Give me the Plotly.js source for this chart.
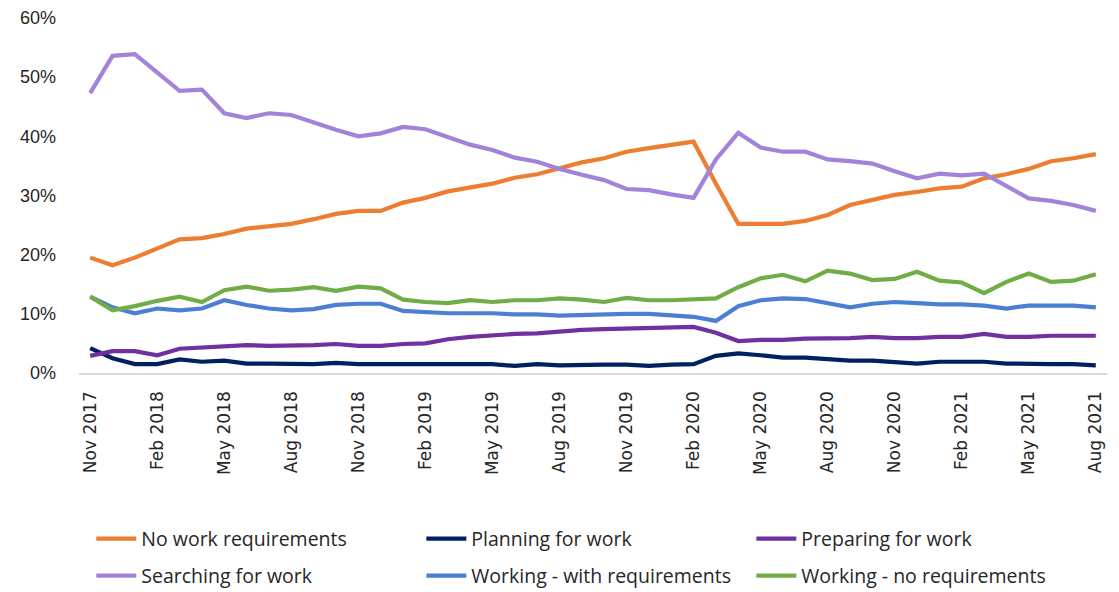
<!DOCTYPE html>
<html>
<head>
<meta charset="utf-8">
<script src="https://cdn.plot.ly/plotly-3.0.1.min.js"></script>
<style>html,body{margin:0;padding:0;background:#fff;}#chart{width:1119px;height:592px;}</style>
</head>
<body>
<div id="chart"></div>
<script>
const months = ["Nov 2017","Dec 2017","Jan 2018","Feb 2018","Mar 2018","Apr 2018","May 2018","Jun 2018","Jul 2018","Aug 2018","Sep 2018","Oct 2018",
"Nov 2018","Dec 2018","Jan 2019","Feb 2019","Mar 2019","Apr 2019","May 2019","Jun 2019","Jul 2019","Aug 2019","Sep 2019","Oct 2019",
"Nov 2019","Dec 2019","Jan 2020","Feb 2020","Mar 2020","Apr 2020","May 2020","Jun 2020","Jul 2020","Aug 2020","Sep 2020","Oct 2020",
"Nov 2020","Dec 2020","Jan 2021","Feb 2021","Mar 2021","Apr 2021","May 2021","Jun 2021","Jul 2021","Aug 2021"];
const tickLabels = ["Nov 2017","Feb 2018","May 2018","Aug 2018","Nov 2018","Feb 2019","May 2019","Aug 2019","Nov 2019","Feb 2020","May 2020","Aug 2020","Nov 2020","Feb 2021","May 2021","Aug 2021"];
const yTickVals = [0,10,20,30,40,50,60];
const yTickText = ["0%","10%","20%","30%","40%","50%","60%"];

const noWorkReq = [19.5,18.2,19.5,21.1,22.6,22.8,23.5,24.4,24.8,25.2,26.0,26.9,27.4,27.4,28.8,29.6,30.7,31.3,32.0,33.0,33.6,34.6,35.6,36.3,37.4,38.0,38.5,39.1,32.0,25.2,25.2,25.2,25.7,26.7,28.4,29.3,30.1,30.6,31.2,31.5,32.9,33.6,34.5,35.8,36.3,37.0];
const planning = [4.2,2.5,1.5,1.5,2.3,1.9,2.1,1.6,1.6,1.5,1.5,1.7,1.5,1.5,1.5,1.5,1.5,1.5,1.5,1.2,1.5,1.3,1.4,1.4,1.4,1.2,1.4,1.5,2.9,3.3,3.0,2.6,2.6,2.3,2.1,2.1,1.8,1.6,1.9,1.9,1.9,1.6,1.5,1.5,1.5,1.3];
const preparing = [2.9,3.7,3.7,3.0,4.1,4.3,4.4,4.7,4.6,4.6,4.7,4.9,4.6,4.6,4.9,5.0,5.7,6.1,6.4,6.6,6.7,7.0,7.3,7.4,7.5,7.6,7.8,7.8,6.8,5.4,5.6,5.6,5.8,5.8,5.9,6.1,5.9,5.9,6.1,6.1,6.6,6.1,6.1,6.3,6.3,6.3];
const searching = [47.3,53.6,53.9,50.8,47.7,47.9,43.9,43.1,43.9,43.6,42.3,41.1,40.0,40.5,41.6,41.2,39.9,38.6,37.7,36.4,35.7,34.5,33.5,32.6,31.1,30.9,30.2,29.6,36.1,40.6,38.1,37.4,37.4,36.1,35.8,35.4,34.1,32.9,33.7,33.4,33.7,31.6,29.5,29.1,28.4,27.4];
const workingWithReq = [12.9,11.1,10.1,10.9,10.6,10.9,12.3,11.5,10.9,10.6,10.8,11.5,11.7,11.7,10.5,10.3,10.1,10.1,10.1,9.9,9.9,9.7,9.8,10.0,10.0,10.0,9.7,9.5,8.8,11.3,12.3,12.6,12.5,11.8,11.1,11.7,12.0,11.8,11.6,11.6,11.4,10.9,11.4,11.4,11.4,11.1];
const workingNoReq = [12.9,10.6,11.3,12.2,12.9,12.0,14.0,14.6,13.9,14.1,14.5,13.9,14.6,14.3,12.4,12.0,11.8,12.3,12.0,12.3,12.3,12.6,12.4,12.0,12.7,12.3,12.3,12.5,12.6,14.5,16.0,16.6,15.5,17.3,16.8,15.7,15.9,17.1,15.6,15.3,13.5,15.4,16.8,15.4,15.6,16.7];

const seriesNames = ["No work requirements","Planning for work","Preparing for work","Searching for work","Working - with requirements","Working - no requirements"];
const seriesData = [noWorkReq, planning, preparing, searching, workingWithReq, workingNoReq];
const colors = ["#ED7D31","#002060","#7030A0","#A383DA","#4A7FD4","#70AD47"];
const legendIds = ["legend","legend","legend","legend2","legend2","legend2"];

const traces = seriesNames.map((n,i)=>({
  type:'scatter', mode:'lines', name:n, x:months, y:seriesData[i],
  line:{color:colors[i], width:4.2, shape:'linear'},
  legend:legendIds[i], hoverinfo:'skip'
}));

const legendFont = {family:'"Open Sans",sans-serif', size:19.5, color:'#262626'};
const legendBase = {orientation:'h', x:0.012, xanchor:'left', yanchor:'middle',
    entrywidth:275, entrywidthmode:'pixels', itemwidth:40, font:legendFont, bgcolor:'rgba(0,0,0,0)', borderwidth:0};
const layout = {
  width:1119, height:592,
  margin:{l:79, r:12, t:18, b:219, autoexpand:false},
  paper_bgcolor:'#ffffff', plot_bgcolor:'#ffffff',
  showlegend:true,
  xaxis:{
    type:'category', categoryorder:'array', categoryarray:months, automargin:false,
    range:[-0.5, 45.5], tickvals:tickLabels, ticktext:tickLabels,
    tickangle:-90, showgrid:false, zeroline:false,
    showline:true, linecolor:'#d9d9d9', linewidth:1.5, ticks:'',
    ticklabelstandoff:10,
    tickfont:{family:'"DejaVu Sans",sans-serif', size:17, color:'#262626'}
  },
  yaxis:{
    range:[0,60], tickmode:'array', tickvals:yTickVals, ticktext:yTickText, automargin:false,
    showgrid:false, zeroline:false, showline:false, ticks:'',
    ticklabelstandoff:22,
    tickfont:{family:'"Liberation Sans","Open Sans",sans-serif', size:18, color:'#262626'}
  },
  legend:Object.assign({}, legendBase, {y:(373-539)/355}),
  legend2:Object.assign({}, legendBase, {y:(373-576)/355})
};
Plotly.newPlot('chart', traces, layout, {displayModeBar:false, staticPlot:true});
</script>
</body>
</html>
